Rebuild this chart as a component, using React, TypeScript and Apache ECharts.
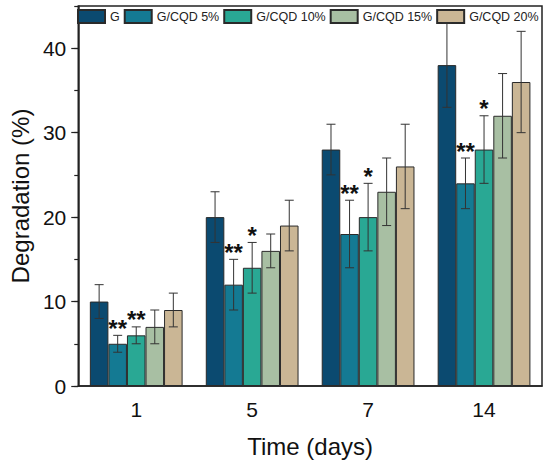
import React, { useEffect, useRef } from "react";
import * as echarts from "echarts";

const categories = ["1", "5", "7", "14"];
const seriesNames = ["G", "G/CQD 5%", "G/CQD 10%", "G/CQD 15%", "G/CQD 20%"];
const colors = ["#0b4a70", "#147a93", "#29a894", "#a8bfa3", "#cab695"];

const meanG = [10, 20, 28, 38];
const meanC5 = [5, 12, 18, 24];
const meanC10 = [6, 14, 20, 28];
const meanC15 = [7, 16, 23, 32];
const meanC20 = [9, 19, 26, 36];

const sdG = [2, 3, 3, 5];
const sdC5 = [1, 3, 4, 3];
const sdC10 = [1, 3, 4, 4];
const sdC15 = [2, 2, 4, 5];
const sdC20 = [2, 3, 5, 6];

const sigG = ["", "", "", ""];
const sigC5 = ["**", "**", "**", "**"];
const sigC10 = ["**", "*", "*", "*"];
const sigC15 = ["", "", "", ""];
const sigC20 = ["", "", "", ""];

const means = [meanG, meanC5, meanC10, meanC15, meanC20];
const sds = [sdG, sdC5, sdC10, sdC15, sdC20];
const sigs = [sigG, sigC5, sigC10, sigC15, sigC20];

const yLabelValues = [0, 10, 20, 30, 40];

const FONT = "Liberation Sans, Arial, Helvetica, sans-serif";

export default function App() {
  const ref = useRef<HTMLDivElement>(null);
  useEffect(() => {
    document.body.style.margin = "0";
    const chart = echarts.init(ref.current!, null, { renderer: "svg" });
    const nS = seriesNames.length;
    const barSeries = seriesNames.map((name, k) => ({
      name,
      type: "bar",
      data: means[k],
      barGap: "0%",
      barCategoryGap: "20%",
      itemStyle: { color: colors[k], borderColor: "#2a2a2a", borderWidth: 1 },
      z: 2,
    }));
    const errSeries = seriesNames.map((name, k) => ({
      name: name + " err",
      type: "custom",
      z: 5,
      data: categories.map((_, i) => [i, means[k][i], sds[k][i]]),
      renderItem: (params: any, api: any) => {
        const idx = api.value(0);
        const m = api.value(1);
        const sd = api.value(2);
        const band = api.size([1, 0])[0];
        const bw = (band * 0.8) / nS;
        const c = api.coord([idx, m]);
        const x = c[0] + (k - (nS - 1) / 2) * bw;
        const top = api.coord([idx, m + sd])[1];
        const bot = api.coord([idx, m - sd])[1];
        const cap = 4.5;
        const st = { stroke: "#333", lineWidth: 1 };
        const children: any[] = [
          { type: "line", shape: { x1: x, y1: top, x2: x, y2: bot }, style: st },
          { type: "line", shape: { x1: x - cap, y1: top, x2: x + cap, y2: top }, style: st },
          { type: "line", shape: { x1: x - cap, y1: bot, x2: x + cap, y2: bot }, style: st },
        ];
        const s = sigs[k][params.dataIndex];
        if (s) {
          children.push({
            type: "text",
            x,
            y: top + 5,
            style: {
              text: s,
              fill: "#111",
              font: `bold 24px ${FONT}`,
              align: "center",
              verticalAlign: "bottom",
            },
          });
        }
        return { type: "group", children };
      },
    }));
    chart.setOption({
      animation: false,
      textStyle: { fontFamily: FONT },
      grid: {
        left: 72,
        right: 8,
        top: 6,
        bottom: 78,
        show: true,
        borderColor: "#222",
        borderWidth: 1.5,
        backgroundColor: "transparent",
      },
      legend: {
        data: seriesNames,
        left: 77,
        top: 9,
        padding: 0,
        itemWidth: 27,
        itemHeight: 13,
        itemGap: 4,
        icon: "rect",
        textStyle: { fontSize: 12.5, color: "#222", fontFamily: FONT },
      },
      xAxis: {
        type: "category",
        data: categories,
        name: "Time (days)",
        nameLocation: "middle",
        nameGap: 48,
        nameTextStyle: { fontSize: 24, color: "#111", fontFamily: FONT },
        axisLine: { lineStyle: { color: "#222", width: 1.5 } },
        axisTick: { alignWithLabel: true, length: 5, lineStyle: { color: "#222", width: 1.2 } },
        axisLabel: { fontSize: 21, color: "#111", margin: 13, fontFamily: FONT },
        splitLine: { show: false },
      },
      yAxis: [
        {
          type: "value",
          position: "left",
          min: 0,
          max: 45,
          interval: 10,
          name: "Degradation (%)",
          nameLocation: "middle",
          nameGap: 42,
          nameTextStyle: { fontSize: 24, color: "#111", fontFamily: FONT },
          axisLine: { show: true, lineStyle: { color: "#222", width: 1.5 } },
          axisTick: { show: true, length: 7, customValues: yLabelValues, lineStyle: { color: "#222", width: 1.2 } },
          axisLabel: { fontSize: 21, color: "#111", margin: 12, customValues: yLabelValues, fontFamily: FONT },
          splitLine: { show: false },
        },
        {
          type: "value",
          position: "left",
          min: 0,
          max: 45,
          interval: 5,
          axisLine: { show: false },
          axisTick: { show: true, length: 4, lineStyle: { color: "#222", width: 1.2 } },
          axisLabel: { show: false },
          splitLine: { show: false },
        },
      ],
      series: [...barSeries, ...errSeries],
    });
    return () => chart.dispose();
  }, []);
  return <div ref={ref} style={{ width: 550, height: 464 }} />;
}
